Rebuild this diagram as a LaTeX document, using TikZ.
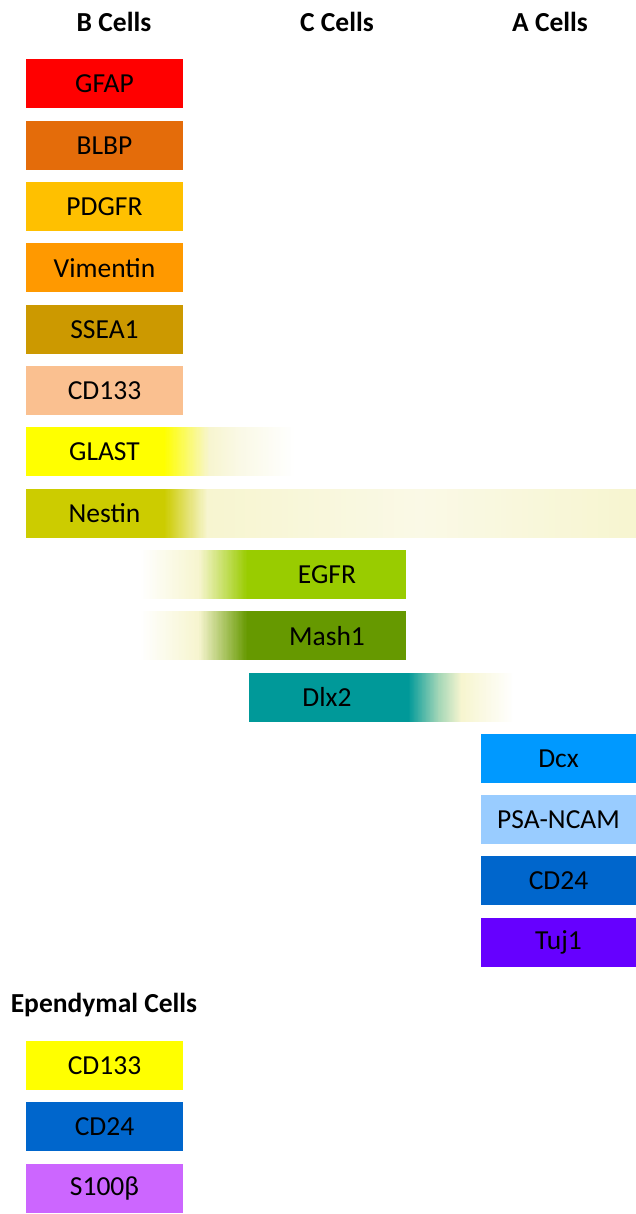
\documentclass[tikz,border=0pt]{standalone}
\usepackage{fontspec}
\setmainfont{Carlito}
\definecolor{cGFAP}{HTML}{FF0000}
\definecolor{cBLBP}{HTML}{E46C0A}
\definecolor{cPDGFR}{HTML}{FFC000}
\definecolor{cVim}{HTML}{FF9900}
\definecolor{cSSEA}{HTML}{CC9900}
\definecolor{cCDpeach}{HTML}{FAC090}
\definecolor{cGLAST}{HTML}{FFFF00}
\definecolor{cNestin}{HTML}{CCCC00}
\definecolor{cEGFR}{HTML}{99CC00}
\definecolor{cMash}{HTML}{669900}
\definecolor{cDlx}{HTML}{009999}
\definecolor{cDcx}{HTML}{0099FF}
\definecolor{cPSA}{HTML}{99CCFF}
\definecolor{cCDblue}{HTML}{0066CC}
\definecolor{cTuj}{HTML}{6600FF}
\definecolor{cS100}{HTML}{CC66FF}
\definecolor{pale}{HTML}{F7F5D0}
\definecolor{paler}{HTML}{FAF9E6}
\definecolor{midgreen}{HTML}{A8D8B8}
% gradient made of thin slices: #1 x-left, #2 x-right, #3 y-top, #4 left colour, #5 right colour
\newcommand\gslice[5]{%
  \foreach \k in {0,...,39}{%
    \pgfmathsetmacro\pp{100*\k/39}%
    \fill[#5!\pp!#4] ({#1+(#2-#1)*\k/40},#3) rectangle ({#1+(#2-#1)*(\k+1)/40+0.4},{#3+49});
  }%
}
\begin{document}
\begin{tikzpicture}[x=1pt,y=-1pt,
  lbl/.style={inner sep=0pt, font=\fontsize{27.5}{30}\selectfont, text=black},
  hdr/.style={inner sep=0pt, font=\fontsize{27.5}{30}\selectfont\bfseries, text=black},
  bar/.style={lbl, minimum height=49pt, minimum width=157pt}]
\useasboundingbox (0,0) rectangle (636,1214);

% headers
\node[hdr] (hB) at (114,22) {B Cells};
\node[hdr] (hC) at (337,22) {C Cells};
\node[hdr] (hA) at (550,22) {A Cells};

% B cell markers
\node[bar, fill=cGFAP] (gfap) at (104.5,84) {GFAP};
\node[bar, fill=cBLBP] (blbp) at (104.5,145.3) {BLBP};
\node[bar, fill=cPDGFR] (pdgfr) at (104.5,206.6) {PDGFR};
\node[bar, fill=cVim] (vim) at (104.5,267.9) {Vimentin};
\node[bar, fill=cSSEA] (ssea) at (104.5,329.2) {SSEA1};
\node[bar, fill=cCDpeach] (cd133b) at (104.5,390.5) {CD133};

% GLAST (gradient)
\fill[cGLAST] (26,427.3) rectangle (164.4,476.3);
\gslice{164}{210}{427.3}{cGLAST}{pale}
\gslice{210}{240}{427.3}{pale}{paler}
\gslice{240}{295}{427.3}{paler}{white}
\node[lbl] (glast) at (104.5,451.8) {GLAST};

% Nestin (gradient)
\fill[cNestin] (26,488.6) rectangle (164.4,537.6);
\gslice{164}{208}{488.6}{cNestin}{pale}
\gslice{208}{420}{488.6}{pale}{paler}
\gslice{420}{635.6}{488.6}{paler}{pale}
\node[lbl] (nestin) at (104.5,513.1) {Nestin};

% EGFR
\gslice{140}{198}{549.9}{white}{pale}
\gslice{198}{248}{549.9}{pale}{cEGFR}
\fill[cEGFR] (248,549.9) rectangle (406,598.9);
\node[lbl] (egfr) at (327,574.4) {EGFR};

% Mash1
\gslice{140}{198}{611.2}{white}{pale}
\gslice{198}{248}{611.2}{pale}{cMash}
\fill[cMash] (248,611.2) rectangle (406,660.2);
\node[lbl] (mash) at (327,635.7) {Mash1};

% Dlx2
\fill[cDlx] (249,672.5) rectangle (408.4,721.5);
\gslice{408}{440}{672.5}{cDlx}{midgreen}
\gslice{440}{462}{672.5}{midgreen}{pale}
\gslice{462}{514.6}{672.5}{pale}{white}
\node[lbl] (dlx) at (327,697) {Dlx2};

% A cell markers
\node[bar, minimum width=155pt, fill=cDcx] (dcx) at (558.5,758.3) {Dcx};
\node[bar, minimum width=155pt, fill=cPSA] (psa) at (558.5,819.6) {PSA-NCAM};
\node[bar, minimum width=155pt, fill=cCDblue] (cd24a) at (558.5,880.9) {CD24};
\node[bar, minimum width=155pt, fill=cTuj] (tuj) at (558.5,942.2) {Tuj1};

% Ependymal
\node[hdr] (hE) at (104,1005) {Ependymal Cells};
\node[bar, fill=cGLAST] (cd133e) at (104.5,1065.5) {CD133};
\node[bar, fill=cCDblue] (cd24e) at (104.5,1126.8) {CD24};
\node[bar, fill=cS100] (s100) at (104.5,1188.1) {S100β};
\end{tikzpicture}
\end{document}
